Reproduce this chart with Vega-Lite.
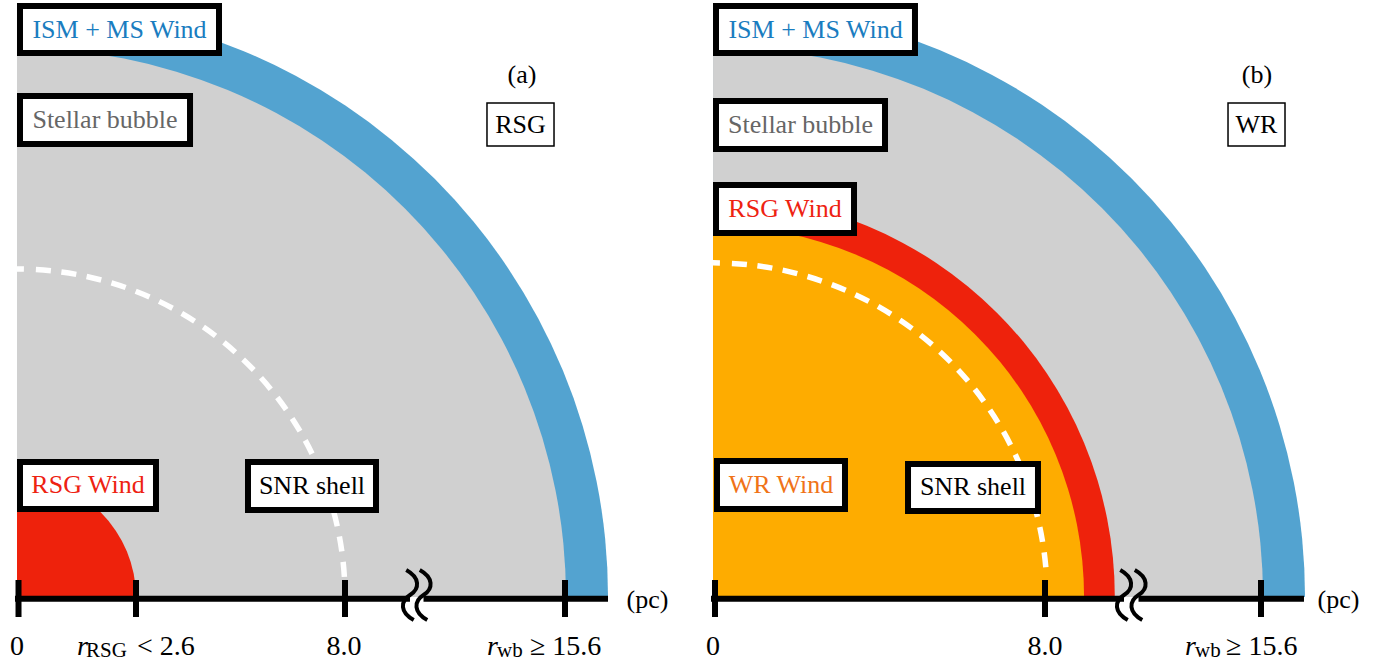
{
  "$schema": "https://vega.github.io/schema/vega-lite/v6.json",
  "width": 1379,
  "height": 662,
  "padding": 0,
  "autosize": {"type": "none"},
  "background": "white",
  "config": {"view": {"stroke": null}},
  "datasets": {
    "regions": [
      {"panel": "a", "region": "ISM + MS Wind", "x": 0, "y": 0, "r": 14.415},
      {"panel": "a", "region": "Stellar bubble", "x": 0, "y": 0, "r": 13.39},
      {"panel": "a", "region": "RSG Wind", "x": 0, "y": 0, "r": 2.902},
      {"panel": "b", "region": "ISM + MS Wind", "x": 16.976, "y": 0, "r": 14.439},
      {"panel": "b", "region": "Stellar bubble", "x": 16.976, "y": 0, "r": 13.415},
      {"panel": "b", "region": "RSG Wind", "x": 16.976, "y": 0, "r": 9.8},
      {"panel": "b", "region": "WR Wind", "x": 16.976, "y": 0, "r": 9.05}
    ],
    "shells": [
      {"panel": "a", "x": 0, "y": 0, "r": 8.0},
      {"panel": "b", "x": 16.976, "y": 0, "r": 8.15}
    ],
    "axis": [
      {"panel": "a", "x": -0.049, "x2": 9.585, "y": -0.04},
      {"panel": "a", "x": 9.915, "x2": 14.415, "y": -0.04},
      {"panel": "b", "x": 16.927, "x2": 27.0, "y": -0.04},
      {"panel": "b", "x": 27.354, "x2": 31.39, "y": -0.04}
    ],
    "ticks": [
      {"panel": "a", "x": 0.037, "y": 0.415, "y2": -0.488},
      {"panel": "a", "x": 2.902, "y": 0.415, "y2": -0.488},
      {"panel": "a", "x": 8.0, "y": 0.415, "y2": -0.488},
      {"panel": "a", "x": 13.366, "y": 0.415, "y2": -0.488},
      {"panel": "b", "x": 17.024, "y": 0.415, "y2": -0.488},
      {"panel": "b", "x": 25.073, "y": 0.415, "y2": -0.488},
      {"panel": "b", "x": 30.341, "y": 0.415, "y2": -0.488}
    ],
    "breaks": [
      {"panel": "a", "x": 9.585, "y": 0.049},
      {"panel": "a", "x": 9.915, "y": 0.049},
      {"panel": "b", "x": 27.0, "y": 0.049},
      {"panel": "b", "x": 27.354, "y": 0.049}
    ],
    "boxes": [
      {"panel": "a", "label": "ISM + MS Wind", "x": 0.073, "x2": 4.927, "y": 14.415, "y2": 13.268},
      {"panel": "a", "label": "Stellar bubble", "x": 0.073, "x2": 4.22, "y": 12.22, "y2": 11.049},
      {"panel": "a", "label": "RSG Wind", "x": 0.073, "x2": 3.39, "y": 3.293, "y2": 2.146},
      {"panel": "a", "label": "SNR shell", "x": 5.634, "x2": 8.756, "y": 3.293, "y2": 2.122},
      {"panel": "b", "label": "ISM + MS Wind", "x": 17.049, "x2": 21.902, "y": 14.415, "y2": 13.268},
      {"panel": "b", "label": "Stellar bubble", "x": 17.049, "x2": 21.171, "y": 12.098, "y2": 10.927},
      {"panel": "b", "label": "RSG Wind", "x": 17.049, "x2": 20.415, "y": 10.049, "y2": 8.878},
      {"panel": "b", "label": "WR Wind", "x": 17.073, "x2": 20.195, "y": 3.317, "y2": 2.146},
      {"panel": "b", "label": "SNR shell", "x": 21.732, "x2": 24.902, "y": 3.244, "y2": 2.098}
    ],
    "tags": [
      {"panel": "a", "label": "RSG", "x": 11.463, "x2": 13.098, "y": 12.049, "y2": 11.0},
      {"panel": "b", "label": "WR", "x": 29.537, "x2": 30.927, "y": 12.049, "y2": 11.0}
    ],
    "box_labels": [
      {"panel": "a", "text": "ISM + MS Wind", "region": "ISM + MS Wind", "x": 2.5, "y": 13.841},
      {"panel": "a", "text": "Stellar bubble", "region": "Stellar bubble", "x": 2.146, "y": 11.634},
      {"panel": "a", "text": "RSG Wind", "region": "RSG Wind", "x": 1.732, "y": 2.72},
      {"panel": "a", "text": "SNR shell", "region": "SNR shell", "x": 7.195, "y": 2.707},
      {"panel": "a", "text": "(a)", "region": "tag", "x": 12.317, "y": 12.732},
      {"panel": "a", "text": "RSG", "region": "tag", "x": 12.28, "y": 11.524},
      {"panel": "b", "text": "ISM + MS Wind", "region": "ISM + MS Wind", "x": 19.476, "y": 13.841},
      {"panel": "b", "text": "Stellar bubble", "region": "Stellar bubble", "x": 19.11, "y": 11.512},
      {"panel": "b", "text": "RSG Wind", "region": "RSG Wind", "x": 18.732, "y": 9.463},
      {"panel": "b", "text": "WR Wind", "region": "WR Wind", "x": 18.634, "y": 2.732},
      {"panel": "b", "text": "SNR shell", "region": "SNR shell", "x": 23.317, "y": 2.671},
      {"panel": "b", "text": "(b)", "region": "tag", "x": 30.244, "y": 12.732},
      {"panel": "b", "text": "WR", "region": "tag", "x": 30.232, "y": 11.524}
    ],
    "tick_labels": [
      {"panel": "a", "text": "0", "x": 0.0, "y": -1.42},
      {"panel": "a", "text": "8.0", "x": 7.976, "y": -1.42},
      {"panel": "b", "text": "0", "x": 16.976, "y": -1.42},
      {"panel": "b", "text": "8.0", "x": 25.073, "y": -1.42}
    ],
    "units": [
      {"panel": "a", "text": "(pc)", "x": 15.378, "y": -0.073},
      {"panel": "b", "text": "(pc)", "x": 32.232, "y": -0.073}
    ],
    "r_sym": [
      {"panel": "a", "text": "r", "x": 1.463, "y": -1.42},
      {"panel": "a", "text": "r", "x": 11.463, "y": -1.42},
      {"panel": "b", "text": "r", "x": 28.488, "y": -1.42}
    ],
    "subs": [
      {"panel": "a", "text": "RSG", "x": 1.683, "y": -1.46},
      {"panel": "a", "text": "wb", "x": 11.707, "y": -1.46},
      {"panel": "b", "text": "wb", "x": 28.732, "y": -1.46}
    ],
    "rel": [
      {"panel": "a", "text": "< 2.6", "x": 2.927, "y": -1.42},
      {"panel": "a", "text": "≥ 15.6", "x": 12.512, "y": -1.42},
      {"panel": "b", "text": "≥ 15.6", "x": 29.488, "y": -1.42}
    ]
  },
  "encoding": {
    "x": {"field": "x", "type": "quantitative", "axis": null, "scale": {"domain": [-0.41463, 33.21951], "nice": false, "zero": false}},
    "y": {"field": "y", "type": "quantitative", "axis": null, "scale": {"domain": [-1.58537, 14.56098], "nice": false, "zero": false}}
  },
  "layer": [
    {
      "data": {"name": "regions"},
      "mark": {"type": "arc", "strokeWidth": 0},
      "encoding": {
        "radius": {"field": "r", "type": "quantitative", "stack": null, "scale": {"type": "linear", "domain": [0, 33.63415], "range": [0, 1379], "zero": true, "nice": false}},
        "theta": {"value": 0},
        "theta2": {"value": 1.5707963},
        "fill": {"field": "region", "type": "nominal", "legend": null, "scale": {"domain": ["ISM + MS Wind", "Stellar bubble", "RSG Wind", "WR Wind"], "range": ["#53a3d0", "#d0d0d0", "#ee220c", "#feac00"]}}
      }
    },
    {
      "data": {"name": "shells"},
      "mark": {"type": "arc", "filled": false, "stroke": "white", "strokeWidth": 5.5, "strokeDash": [7, 12, 15, 10.6, 15, 10.6, 15, 10.6, 15, 10.6, 15, 10.6, 15, 10.6, 15, 10.6, 15, 10.6, 15, 10.6, 15, 10.6, 15, 10.6, 15, 10.6, 15, 10.6, 15, 10.6, 15, 10.6, 15, 10.6, 15, 10.6, 15, 10.6, 15, 2000]},
      "encoding": {
        "radius": {"field": "r", "type": "quantitative", "stack": null},
        "theta": {"value": 0},
        "theta2": {"value": 1.5707963}
      }
    },
    {
      "data": {"name": "axis"},
      "mark": {"type": "rule", "color": "black", "strokeWidth": 6},
      "encoding": {"x2": {"field": "x2"}}
    },
    {
      "data": {"name": "ticks"},
      "mark": {"type": "rule", "color": "black", "strokeWidth": 6},
      "encoding": {"y2": {"field": "y2"}}
    },
    {
      "data": {"name": "breaks"},
      "mark": {"type": "point", "filled": false, "stroke": "black", "strokeWidth": 4, "opacity": 1, "size": 2500, "shape": "M-0.15,-1C0.4,-0.7,0.4,-0.25,0,0C-0.4,0.25,-0.4,0.7,0.15,1"},
      "encoding": {}
    },
    {
      "data": {"name": "boxes"},
      "mark": {"type": "rect", "fill": "white", "stroke": "black", "strokeWidth": 6},
      "encoding": {"x2": {"field": "x2"}, "y2": {"field": "y2"}}
    },
    {
      "data": {"name": "tags"},
      "mark": {"type": "rect", "fill": "white", "stroke": "black", "strokeWidth": 1.5},
      "encoding": {"x2": {"field": "x2"}, "y2": {"field": "y2"}}
    },
    {
      "data": {"name": "box_labels"},
      "mark": {"type": "text", "font": "Liberation Serif", "fontSize": 26, "align": "center", "baseline": "middle"},
      "encoding": {
        "text": {"field": "text"},
        "color": {"field": "region", "type": "nominal", "legend": null, "scale": {"domain": ["ISM + MS Wind", "Stellar bubble", "RSG Wind", "WR Wind", "SNR shell", "tag"], "range": ["#1a7dc0", "#666666", "#ee2211", "#f07318", "#000000", "#000000"]}}
      }
    },
    {
      "data": {"name": "tick_labels"},
      "mark": {"type": "text", "font": "Liberation Serif", "fontSize": 28, "align": "center", "baseline": "alphabetic", "color": "black"},
      "encoding": {"text": {"field": "text"}}
    },
    {
      "data": {"name": "units"},
      "mark": {"type": "text", "font": "Liberation Serif", "fontSize": 26, "align": "center", "baseline": "middle", "color": "black"},
      "encoding": {"text": {"field": "text"}}
    },
    {
      "data": {"name": "r_sym"},
      "mark": {"type": "text", "font": "Liberation Serif", "fontSize": 28, "fontStyle": "italic", "align": "left", "baseline": "alphabetic", "color": "black"},
      "encoding": {"text": {"field": "text"}}
    },
    {
      "data": {"name": "subs"},
      "mark": {"type": "text", "font": "Liberation Serif", "fontSize": 21, "align": "left", "baseline": "alphabetic", "color": "black"},
      "encoding": {"text": {"field": "text"}}
    },
    {
      "data": {"name": "rel"},
      "mark": {"type": "text", "font": "Liberation Serif", "fontSize": 28, "align": "left", "baseline": "alphabetic", "color": "black"},
      "encoding": {"text": {"field": "text"}}
    }
  ]
}
